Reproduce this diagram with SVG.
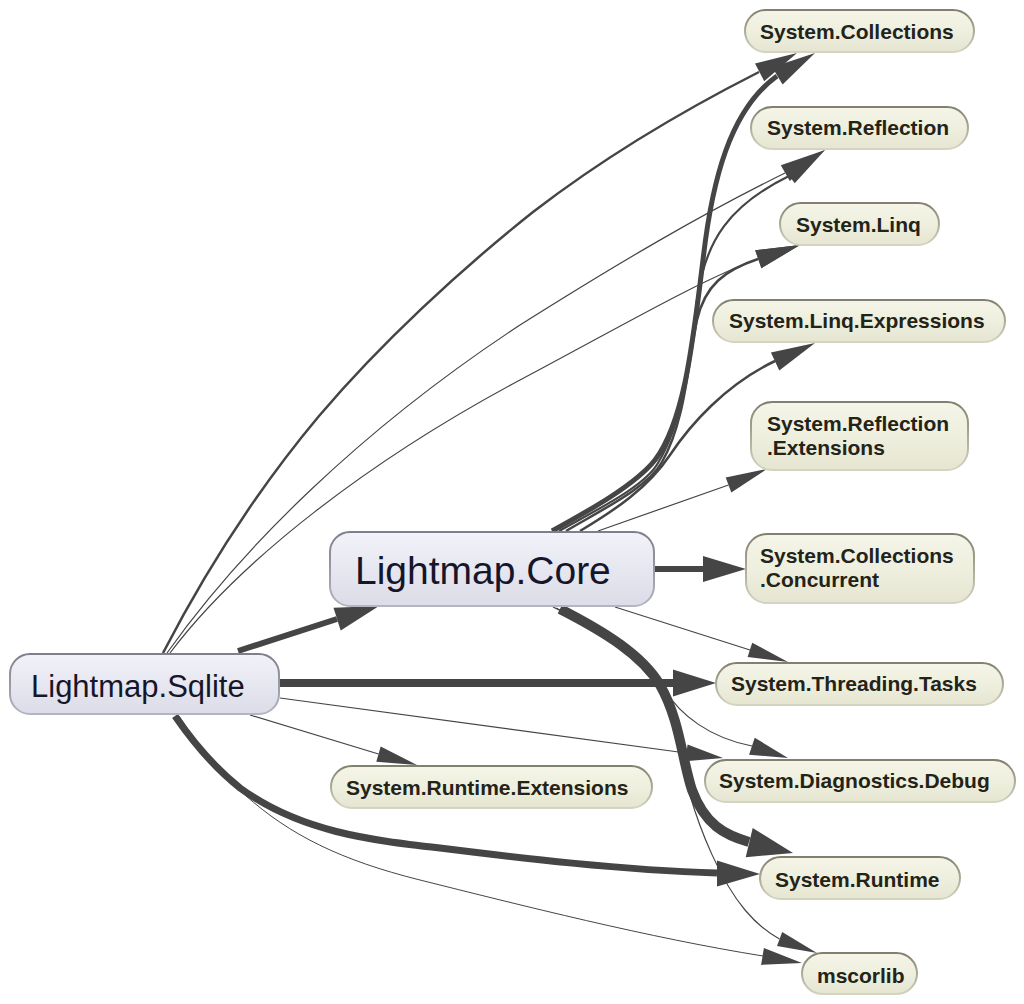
<svg xmlns="http://www.w3.org/2000/svg" width="1024" height="1004" viewBox="0 0 1024 1004">
<defs>
<linearGradient id="depFill" x1="0" y1="0" x2="0" y2="1">
<stop offset="0" stop-color="#f5f5e8"/>
<stop offset="0.5" stop-color="#efefdf"/>
<stop offset="1" stop-color="#e5e5d1"/>
</linearGradient>
<linearGradient id="depStroke" x1="0" y1="0" x2="0" y2="1">
<stop offset="0" stop-color="#80806c"/>
<stop offset="1" stop-color="#d4d4c2"/>
</linearGradient>
<linearGradient id="asmFill" x1="0" y1="0" x2="0" y2="1">
<stop offset="0" stop-color="#f2f2f9"/>
<stop offset="0.5" stop-color="#e7e7f1"/>
<stop offset="1" stop-color="#dcdce8"/>
</linearGradient>
<linearGradient id="asmStroke" x1="0" y1="0" x2="0" y2="1">
<stop offset="0" stop-color="#7e7e8c"/>
<stop offset="1" stop-color="#b4b4c2"/>
</linearGradient>
</defs>
<style>
.e{fill:none;stroke:#454545;stroke-linecap:butt}
.h{fill:#454545;stroke:none}
.dep{fill:url(#depFill);stroke:url(#depStroke);stroke-width:2}
.asm{fill:url(#asmFill);stroke:url(#asmStroke);stroke-width:2}
.dt{font-family:"Liberation Sans",Arial,sans-serif;font-size:21px;font-weight:bold;fill:#232318}
.at{font-family:"Liberation Sans",Arial,sans-serif;fill:#16162a}
</style>
<rect width="1024" height="1004" fill="#ffffff"/>
<g id="connectors">
<!-- Lightmap.Sqlite edges -->
<path class="e" stroke-width="2.5" d="M163,653 C206,570 257,490 319,416 C381,343 460,270 533,212 C607,155 686,109 759,72"/>
<polygon class="h" points="797,53 764.2,81.2 755,63.4"/>
<path class="e" stroke-width="1.2" d="M167,653 C240,550 360,430 520,325 C620,262 700,215 785,173"/>
<polygon class="h" points="825,150 789.8,180.9 780.8,165.3"/>
<path class="e" stroke-width="1.2" d="M170,653 C240,560 370,460 520,380 C620,327 700,280 758,259"/>
<polygon class="h" points="800,245 761.4,268.2 755.2,250.2"/>
<path class="e" stroke-width="6" d="M238,651 L337,619"/>
<polygon class="h" points="379,606 340.7,630.6 333.5,607.8"/>
<path class="e" stroke-width="8" d="M280,683 L673,683"/>
<polygon class="h" points="716,683 673,669.5 673,696.5"/>
<path class="e" stroke-width="1.2" d="M280,698 L686,753"/>
<polygon class="h" points="723,758 685.2,761.2 687.6,744.4"/>
<path class="e" stroke-width="1.2" d="M250,715 L378.5,754"/>
<polygon class="h" points="417,765 376.3,761.8 380.7,746.4"/>
<path class="e" stroke-width="7" d="M175,716 C195,745 215,768 240,788 C300,832 370,840 440,848 C520,858 620,870 717,873"/>
<polygon class="h" points="760,874 717,860.5 717,886.5"/>
<path class="e" stroke-width="1" d="M179,716 C200,748 220,772 245,795 C290,835 340,860 420,880 C520,905 650,938 763,956"/>
<polygon class="h" points="802,963 761.1,964.9 763.9,948.1"/>
<!-- Lightmap.Core edges -->
<path class="e" stroke-width="5" d="M552,531 C590,510 635,485 655,460 C685,420 693,340 703,260 C712,180 730,110 777,76"/>
<polygon class="h" points="815,53 782.6,84.4 772.2,67.3"/>
<path class="e" stroke-width="2.2" d="M559,531 C600,508 645,486 658,463 C684,420 690,360 697,300 C705,240 730,205 789,176"/>
<polygon class="h" points="825,150 794.7,183.3 784.1,168.7"/>
<path class="e" stroke-width="2.5" d="M566,531 C605,508 648,487 662,462 C686,420 688,360 697,320 C705,285 725,270 758,259"/>
<polygon class="h" points="800,245 761.4,268.2 755.2,250.2"/>
<path class="e" stroke-width="2.5" d="M580,531 C615,510 648,488 670,455 C690,425 725,385 775,361"/>
<polygon class="h" points="815,343 779.3,370.6 770.9,352.4"/>
<path class="e" stroke-width="1.2" d="M598,531 L728.5,485"/>
<polygon class="h" points="767,469 731.3,492.4 725.7,477.4"/>
<path class="e" stroke-width="6" d="M655,569 L703,569"/>
<polygon class="h" points="746,569 703,556 703,582"/>
<path class="e" stroke-width="1.2" d="M615,607 L750,650"/>
<polygon class="h" points="788,662 747.6,657 752.2,642.7"/>
<path class="e" stroke-width="1.2" d="M553,607 C600,630 645,655 665,690 C680,715 710,738 752,746"/>
<polygon class="h" points="788,758 749.1,754.8 754.7,737.7"/>
<path class="e" stroke-width="1.2" d="M556,608 C598,628 638,651 658,686 C678,722 680,762 690,795 C700,830 720,880 745,910 C755,922 765,931 779.5,939"/>
<polygon class="h" points="817,953 777,946 782.2,932"/>
<path class="e" stroke-width="10" d="M560,609 C605,632 642,655 660,685 C680,720 682,760 692,790 C705,825 725,835 749,842"/>
<polygon class="h" points="793,853 745.7,857.2 752.7,828"/>
</g>
<g id="node-sqlite">
<rect class="asm" x="10" y="654" width="269" height="60" rx="20"/>
<text class="at" x="31" y="697" font-size="31">Lightmap.Sqlite</text>
</g>
<g id="node-core">
<rect class="asm" x="330" y="532" width="324" height="74" rx="20"/>
<text class="at" x="355" y="584" font-size="39">Lightmap.Core</text>
</g>
<g id="node-collections">
<rect class="dep" x="745" y="10" width="229" height="42" rx="21"/>
<text class="dt" x="760" y="39">System.Collections</text>
</g>
<g id="node-reflection">
<rect class="dep" x="751" y="107" width="217" height="42" rx="21"/>
<text class="dt" x="767" y="135">System.Reflection</text>
</g>
<g id="node-linq">
<rect class="dep" x="780" y="203" width="159" height="42" rx="21"/>
<text class="dt" x="796" y="232">System.Linq</text>
</g>
<g id="node-linq-expressions">
<rect class="dep" x="713" y="300" width="292" height="42" rx="21"/>
<text class="dt" x="729" y="328">System.Linq.Expressions</text>
</g>
<g id="node-reflection-extensions">
<rect class="dep" x="751" y="402" width="217" height="68" rx="21"/>
<text class="dt" x="767" y="431">System.Reflection</text>
<text class="dt" x="767" y="455">.Extensions</text>
</g>
<g id="node-collections-concurrent">
<rect class="dep" x="746" y="534" width="228" height="69" rx="21"/>
<text class="dt" x="760" y="563">System.Collections</text>
<text class="dt" x="760" y="587">.Concurrent</text>
</g>
<g id="node-threading-tasks">
<rect class="dep" x="716" y="663" width="287" height="42" rx="21"/>
<text class="dt" x="731" y="691">System.Threading.Tasks</text>
</g>
<g id="node-diagnostics-debug">
<rect class="dep" x="705" y="760" width="310" height="42" rx="21"/>
<text class="dt" x="719" y="788">System.Diagnostics.Debug</text>
</g>
<g id="node-runtime-extensions">
<rect class="dep" x="331" y="766" width="321" height="42" rx="21"/>
<text class="dt" x="346" y="795">System.Runtime.Extensions</text>
</g>
<g id="node-runtime">
<rect class="dep" x="760" y="857" width="200" height="42" rx="21"/>
<text class="dt" x="775" y="887">System.Runtime</text>
</g>
<g id="node-mscorlib">
<rect class="dep" x="802" y="953" width="115" height="41" rx="20.5"/>
<text class="dt" x="817" y="983">mscorlib</text>
</g>
</svg>
